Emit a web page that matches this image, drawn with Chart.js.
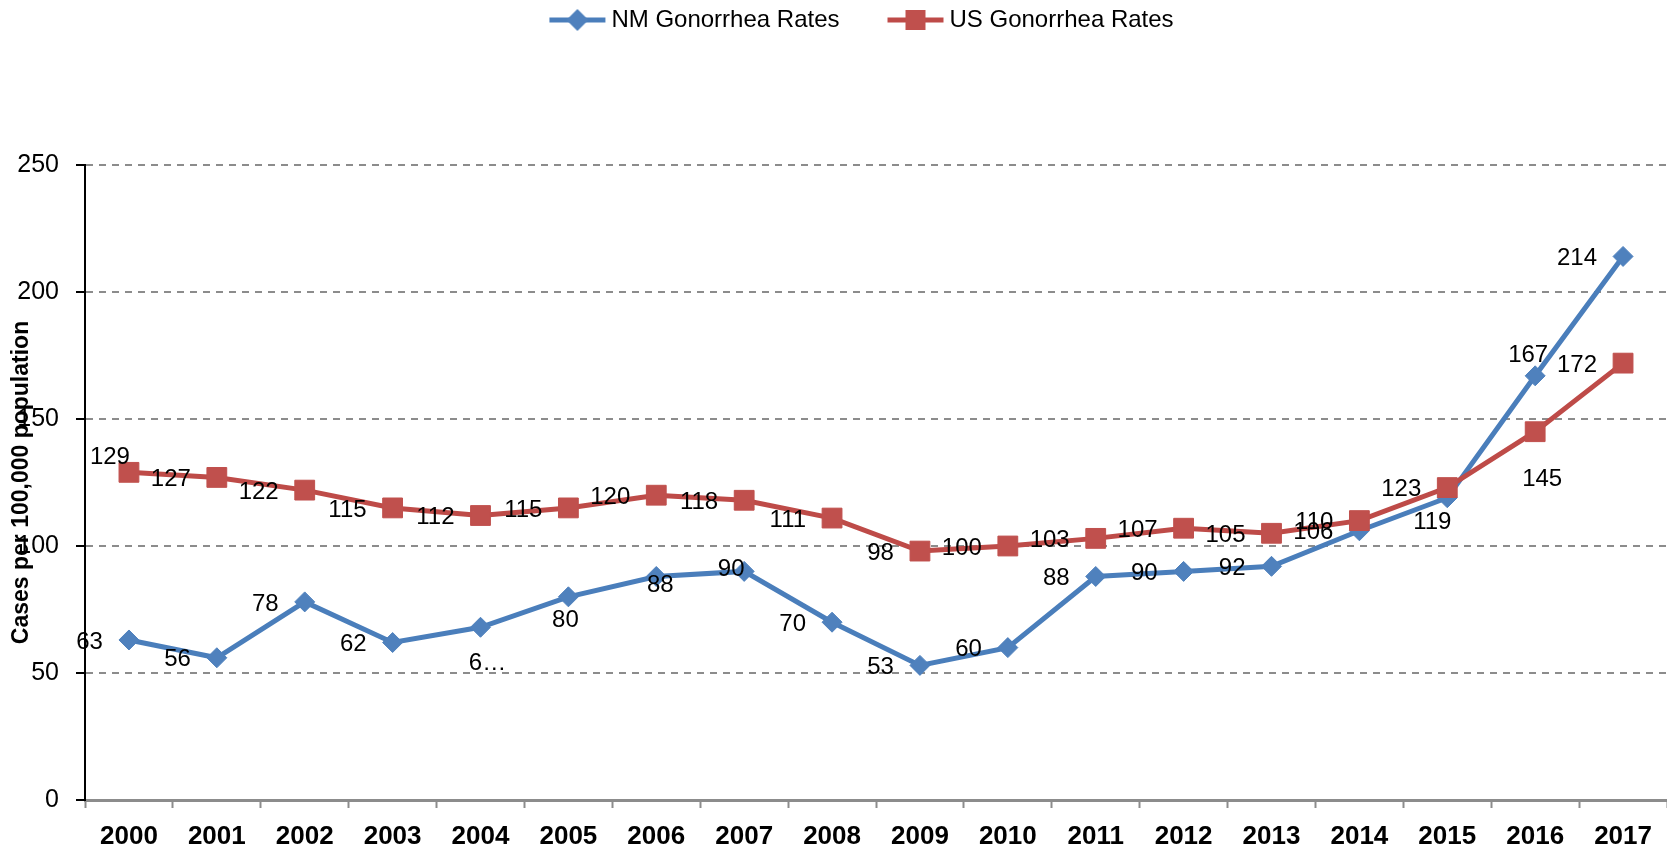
<!DOCTYPE html>
<html>
<head>
<meta charset="utf-8">
<script src="https://cdn.jsdelivr.net/npm/chart.js@4.4.1/dist/chart.umd.min.js"></script>
<style>
  html, body { margin: 0; padding: 0; background: #fff; overflow: hidden; }
  #c { display: block; }
</style>
</head>
<body>
<canvas id="c" width="1667" height="847"></canvas>
<script>
// ---- data ----
const years = ['2000','2001','2002','2003','2004','2005','2006','2007','2008','2009','2010','2011','2012','2013','2014','2015','2016','2017'];
const nmRates = [63, 56, 78, 62, 68, 80, 88, 90, 70, 53, 60, 88, 90, 92, 106, 119, 167, 214];
const usRates = [129, 127, 122, 115, 112, 115, 120, 118, 111, 98, 100, 103, 107, 105, 110, 123, 145, 172];
const seriesNames = ['NM Gonorrhea Rates', 'US Gonorrhea Rates'];
const yTicks = [0, 50, 100, 150, 200, 250];
const yTitle = 'Cases per 100,000 population';

// label texts as shown (one label is truncated in the original)
const nmLabelText = nmRates.map(String);
nmLabelText[4] = '6\u2026';
const usLabelText = usRates.map(String);

// label placement: 'L' = to the left of the point, otherwise [dx, dy] offset of label centre
const nmLabelPlace = ['L','L','L','L',[7,36],[-3,24],[4,9],[-13,-2],'L','L','L','L','L','L','L',[-15,25],[-7,-20],'L'];
const usLabelPlace = [[-19,-15],'L','L','L','L','L','L','L','L','L','L','L','L','L','L','L',[7,48],'L'];

const BLUE = '#4A7EBB', BLUE_M = '#4F81BD';
const RED = '#BE4B48', RED_M = '#C0504D';
const FONT = '"Liberation Sans", Arial, sans-serif';

function swatch(lineColor, markColor, shape) {
  const c = document.createElement('canvas');
  c.width = 106; c.height = 26;
  const g = c.getContext('2d');
  g.strokeStyle = lineColor; g.lineWidth = 5;
  g.beginPath(); g.moveTo(48, 13); g.lineTo(104, 13); g.stroke();
  g.fillStyle = markColor;
  const cx = 76, cy = 13;
  g.beginPath();
  if (shape === 'diamond') {
    g.moveTo(cx - 11, cy); g.lineTo(cx, cy - 11); g.lineTo(cx + 11, cy); g.lineTo(cx, cy + 11);
  } else {
    g.rect(cx - 10, cy - 10, 20, 20);
  }
  g.closePath(); g.fill();
  return c;
}
const swatches = [swatch(BLUE, BLUE_M, 'diamond'), swatch(RED, RED_M, 'square')];

const legendSpace = {
  id: 'legendSpace',
  beforeInit(chart) {
    const orig = chart.legend.fit;
    chart.legend.fit = function () {
      orig.bind(chart.legend)();
      this.height = 165;
    };
  },
  afterLayout(chart) {
    chart.legend.left += 8;
    chart.legend.right += 8;
  }
};

const pointLabels = {
  id: 'pointLabels',
  afterDatasetsDraw(chart) {
    const ctx = chart.ctx;
    const texts = [nmLabelText, usLabelText];
    const places = [nmLabelPlace, usLabelPlace];
    ctx.save();
    ctx.font = '24px ' + FONT;
    ctx.fillStyle = '#000';
    ctx.textAlign = 'center';
    ctx.textBaseline = 'middle';
    chart.data.datasets.forEach((ds, di) => {
      const meta = chart.getDatasetMeta(di);
      meta.data.forEach((pt, i) => {
        const t = texts[di][i];
        const p = places[di][i];
        const w = ctx.measureText(t).width;
        let x, y;
        if (p === 'L') { x = pt.x - 26 - w / 2; y = pt.y + 2; }
        else { x = pt.x + p[0]; y = pt.y + p[1]; }
        ctx.fillText(t, x, y);
      });
    });
    ctx.restore();
  }
};

new Chart(document.getElementById('c'), {
  type: 'line',
  data: {
    labels: years,
    datasets: [
      {
        label: seriesNames[0], data: nmRates, order: 1,
        borderColor: BLUE, borderWidth: 5, tension: 0,
        pointStyle: 'rectRot', pointRadius: 10, pointHoverRadius: 10,
        pointBackgroundColor: BLUE_M, pointBorderColor: BLUE_M, pointBorderWidth: 1
      },
      {
        label: seriesNames[1], data: usRates, order: 0,
        borderColor: RED, borderWidth: 5, tension: 0,
        pointStyle: 'rect', pointRadius: 14, pointHoverRadius: 14,
        pointBackgroundColor: RED_M, pointBorderColor: RED_M, pointBorderWidth: 1
      }
    ]
  },
  options: {
    responsive: false,
    maintainAspectRatio: false,
    devicePixelRatio: 1,
    animation: false,
    events: [],
    layout: { autoPadding: false, padding: 0 },
    plugins: {
      tooltip: { enabled: false },
      legend: {
        display: true,
        position: 'top',
        labels: {
          usePointStyle: true,
          pointStyleWidth: 90,
          boxHeight: 24,
          padding: 8,
          color: '#000',
          font: { family: FONT, size: 24 },
          generateLabels: (chart) => chart.data.datasets.map((ds, i) => ({
            text: ds.label,
            fillStyle: ds.borderColor,
            strokeStyle: ds.borderColor,
            lineWidth: 0,
            pointStyle: swatches[i],
            hidden: false,
            datasetIndex: i
          }))
        }
      }
    },
    scales: {
      x: {
        type: 'category',
        offset: true,
        afterFit: (s) => { s.height = 47; s.paddingLeft = 0; s.paddingRight = 0; },
        grid: {
          offset: true, drawOnChartArea: false, drawTicks: true,
          tickLength: 8, tickColor: '#8c8c8c', tickWidth: 2
        },
        border: { display: true, color: '#8c8c8c', width: 3 },
        ticks: {
          color: '#000', padding: 13, maxRotation: 0, autoSkip: false,
          font: { family: FONT, size: 26, weight: 'bold' }
        }
      },
      y: {
        min: 0, max: 250,
        afterFit: (s) => { s.width = 85; },
        afterBuildTicks: (s) => { s.ticks = yTicks.map(v => ({ value: v })); },
        grid: {
          color: '#8c8c8c', lineWidth: 2,
          tickColor: '#000', tickWidth: 2, tickLength: 9
        },
        border: { display: true, color: '#000', width: 2, dash: [7, 6] },
        ticks: {
          color: '#000', padding: 17,
          font: { family: FONT, size: 25 }
        },
        title: {
          display: true, text: yTitle, color: '#000',
          padding: { top: 8, bottom: 0 },
          font: { family: FONT, size: 23, weight: 'bold' }
        }
      }
    }
  },
  plugins: [legendSpace, pointLabels]
});
</script>
</body>
</html>
